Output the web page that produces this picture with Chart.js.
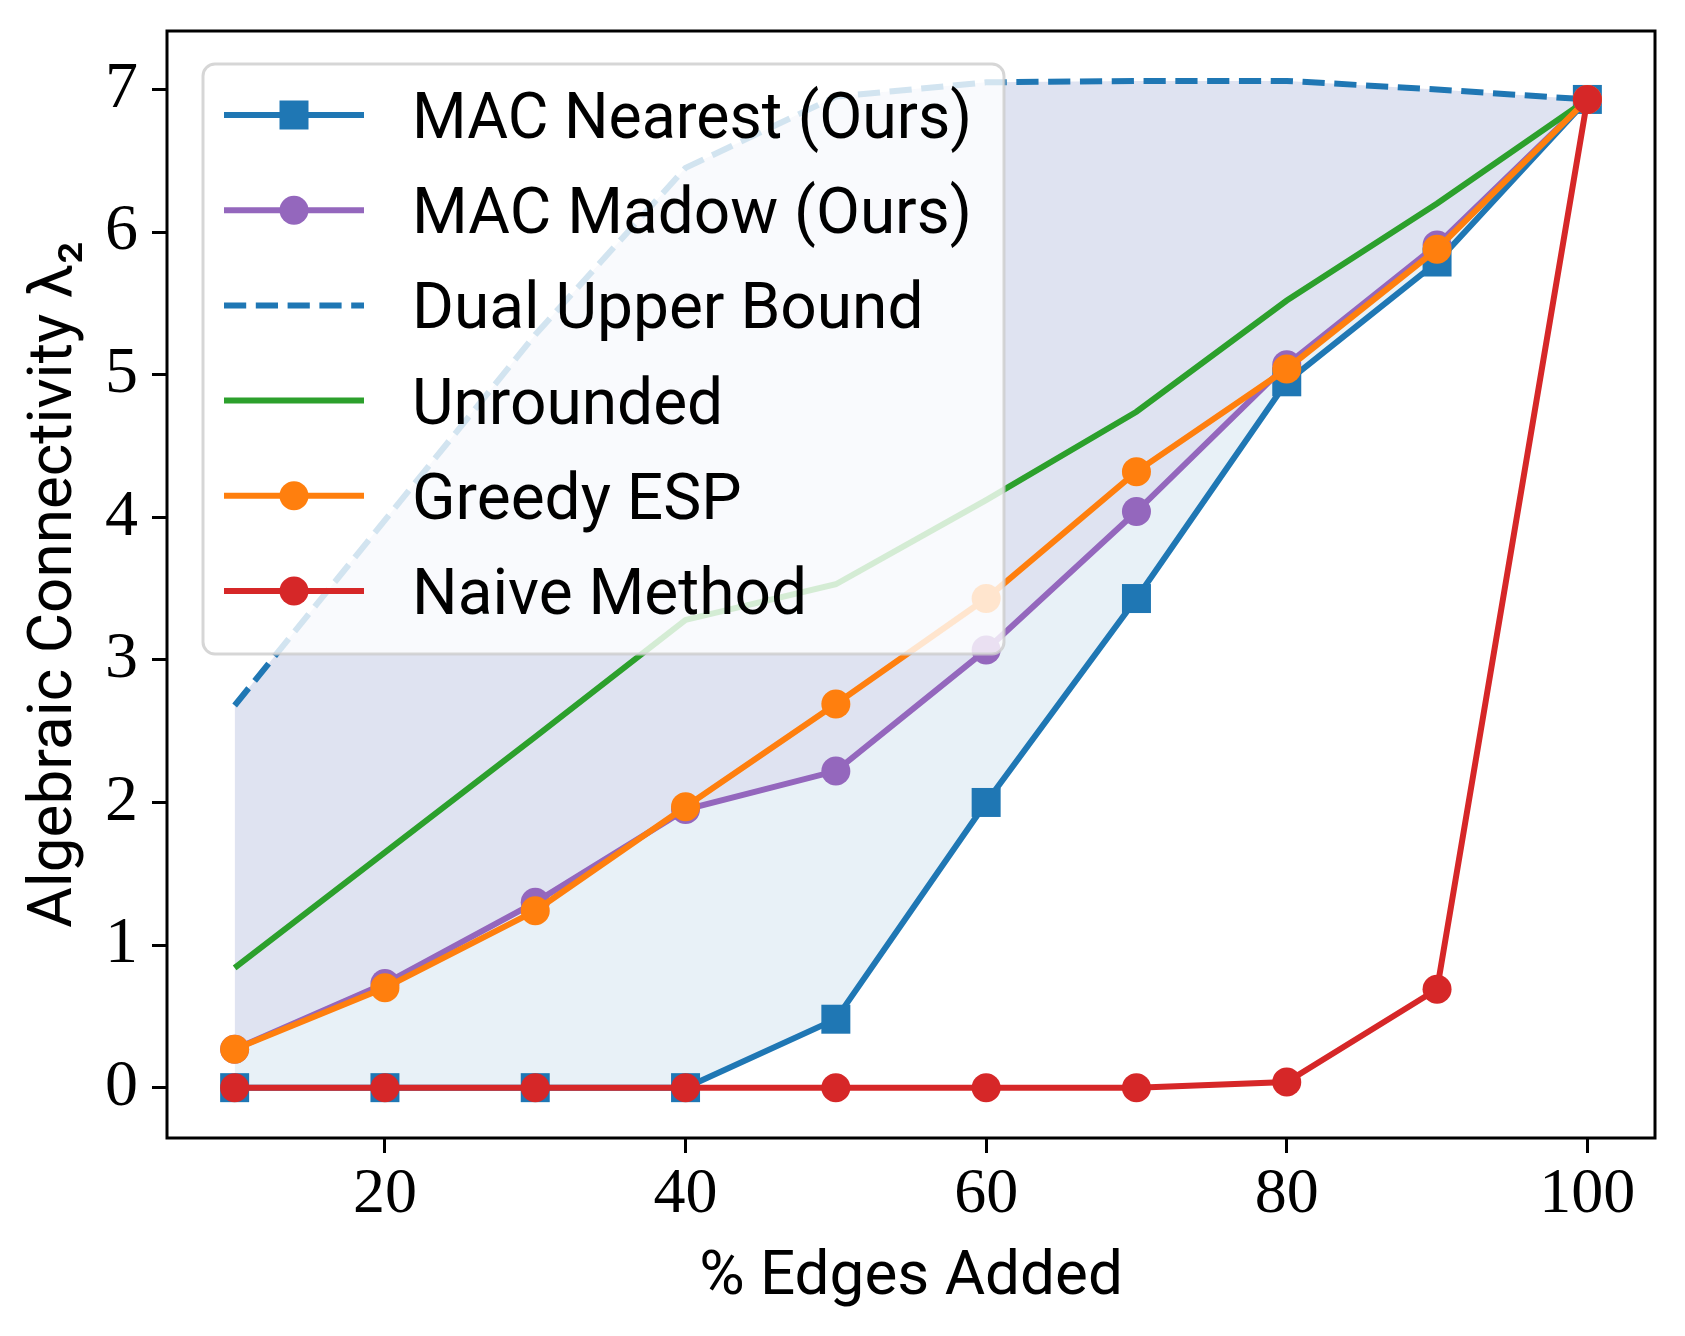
<!DOCTYPE html>
<html>
<head>
<meta charset="utf-8">
<script src="https://cdn.jsdelivr.net/npm/chart.js@4.4.1/dist/chart.umd.min.js"></script>
<style>
  html, body { margin: 0; padding: 0; background: #fff; }
  #wrap { width: 1685px; height: 1336px; position: relative; }
</style>
</head>
<body>
<div id="wrap"><canvas id="c"></canvas></div>
<script>
// ---- data ----
const edgesAdded = [10, 20, 30, 40, 50, 60, 70, 80, 90, 100];
const macNearest = [0, 0, 0, 0, 0.48, 2.0, 3.43, 4.95, 5.79, 6.93];
const macMadow = [0.27, 0.73, 1.30, 1.95, 2.22, 3.07, 4.04, 5.07, 5.91, 6.93];
const dualUpper = [2.68, 3.98, 5.28, 6.45, 6.95, 7.05, 7.06, 7.06, 7.00, 6.93];
const unrounded = [0.84, 1.65, 2.46, 3.28, 3.53, 4.12, 4.74, 5.52, 6.20, 6.93];
const greedyESP = [0.27, 0.70, 1.24, 1.97, 2.69, 3.43, 4.32, 5.04, 5.88, 6.93];
const naiveMethod = [0, 0, 0, 0, 0, 0, 0, 0.04, 0.69, 6.93];
const seriesLabels = ['MAC Nearest (Ours)', 'MAC Madow (Ours)', 'Dual Upper Bound', 'Unrounded', 'Greedy ESP', 'Naive Method'];
const xTickValues = [20, 40, 60, 80, 100];
const yTickValues = [0, 1, 2, 3, 4, 5, 6, 7];
const xAxisTitle = '% Edges Added';
const yAxisTitle = 'Algebraic Connectivity \u03bb\u2082';

const C = { blue: '#1f77b4', purple: '#9467bd', green: '#2ca02c', orange: '#ff7f0e', red: '#d62728' };
const pts = (ys) => edgesAdded.map((x, i) => ({ x: x, y: ys[i] }));

const SANS = 'Roboto, "Liberation Sans", sans-serif';
const SERIF = '"Liberation Serif", "DejaVu Serif", serif';

const legendPlugin = {
  id: 'boxLegend',
  afterDatasetsDraw(chart) {
    const ctx = chart.ctx;
    const a = chart.chartArea;
    ctx.save();
    // axes frame
    ctx.strokeStyle = '#000';
    ctx.lineWidth = 3;
    ctx.strokeRect(a.left, a.top, a.right - a.left, a.bottom - a.top);
    // legend box
    const bx = a.left + 36, by = a.top + 33, bw = 801, bh = 590, r = 12;
    ctx.beginPath();
    ctx.moveTo(bx + r, by);
    ctx.lineTo(bx + bw - r, by);
    ctx.arcTo(bx + bw, by, bx + bw, by + r, r);
    ctx.lineTo(bx + bw, by + bh - r);
    ctx.arcTo(bx + bw, by + bh, bx + bw - r, by + bh, r);
    ctx.lineTo(bx + r, by + bh);
    ctx.arcTo(bx, by + bh, bx, by + bh - r, r);
    ctx.lineTo(bx, by + r);
    ctx.arcTo(bx, by, bx + r, by, r);
    ctx.closePath();
    ctx.fillStyle = 'rgba(255,255,255,0.8)';
    ctx.fill();
    ctx.strokeStyle = 'rgba(204,204,204,0.8)';
    ctx.lineWidth = 3;
    ctx.stroke();
    // entries
    const rowY0 = by + 51, rowStep = 95.2;
    const lx0 = bx + 21, lx1 = bx + 161, mx = bx + 91, tx = bx + 209;
    ctx.font = '64px ' + SANS;
    ctx.textBaseline = 'alphabetic';
    ctx.textAlign = 'left';
    chart.data.datasets.forEach((ds, i) => {
      const y = rowY0 + i * rowStep;
      ctx.strokeStyle = ds.borderColor;
      ctx.lineWidth = ds.borderWidth;
      ctx.setLineDash(ds.borderDash || []);
      ctx.lineCap = 'butt';
      ctx.beginPath();
      ctx.moveTo(lx0, y);
      ctx.lineTo(lx1, y);
      ctx.stroke();
      ctx.setLineDash([]);
      if (ds.pointRadius > 0) {
        ctx.fillStyle = ds.borderColor;
        if (ds.pointStyle === 'rect') {
          const s = ds.pointRadius * Math.SQRT1_2;
          ctx.fillRect(mx - s, y - s, 2 * s, 2 * s);
        } else {
          ctx.beginPath();
          ctx.arc(mx, y, ds.pointRadius, 0, Math.PI * 2);
          ctx.fill();
        }
      }
      ctx.fillStyle = '#000';
      ctx.fillText(ds.label, tx, y + 23, 560);
    });
    ctx.restore();
  }
};

const base = (label, color, data, extra) => Object.assign({
  label: label, data: pts(data), borderColor: color, backgroundColor: color,
  borderWidth: 6, pointRadius: 14.5, pointHoverRadius: 14.5, pointBorderWidth: 0,
  pointBackgroundColor: color, pointStyle: 'circle', tension: 0, fill: false
}, extra || {});

new Chart(document.getElementById('c'), {
  type: 'line',
  data: {
    datasets: [
      base(seriesLabels[0], C.blue, macNearest, { pointStyle: 'rect', pointRadius: 20.5, pointHoverRadius: 20.5, order: 6,
        fill: { target: 2, above: 'rgba(31,119,180,0.1)', below: 'rgba(31,119,180,0.1)' } }),
      base(seriesLabels[1], C.purple, macMadow, { order: 5,
        fill: { target: 2, above: 'rgba(148,103,189,0.1)', below: 'rgba(148,103,189,0.1)' } }),
      base(seriesLabels[2], C.blue, dualUpper, { pointRadius: 0, pointHoverRadius: 0, borderDash: [22.2, 9.6], order: 4 }),
      base(seriesLabels[3], C.green, unrounded, { pointRadius: 0, pointHoverRadius: 0, order: 3 }),
      base(seriesLabels[4], C.orange, greedyESP, { order: 2 }),
      base(seriesLabels[5], C.red, naiveMethod, { order: 1 })
    ]
  },
  options: {
    responsive: true,
    maintainAspectRatio: false,
    devicePixelRatio: 1,
    animation: false,
    layout: { padding: { top: 31, right: 30, left: 0, bottom: 0 } },
    plugins: {
      legend: { display: false },
      tooltip: { enabled: false },
      filler: { drawTime: 'beforeDatasetsDraw' }
    },
    scales: {
      x: {
        type: 'linear', min: 5.5, max: 104.5,
        afterBuildTicks: (s) => { s.ticks = xTickValues.map(v => ({ value: v })); },
        afterFit: (s) => { s.height = 198; s.paddingLeft = 0; s.paddingRight = 0; },
        grid: { display: true, drawOnChartArea: false, drawTicks: true, tickLength: 15, tickWidth: 3, tickColor: '#000' },
        border: { display: false },
        ticks: { color: '#000', font: { family: SERIF, size: 64 }, padding: 4, maxRotation: 0 },
        title: { display: true, text: xAxisTitle, color: '#000', font: { family: SANS, size: 62 }, padding: { top: 0, bottom: 20 } }
      },
      y: {
        type: 'linear', min: -0.353, max: 7.41,
        afterBuildTicks: (s) => { s.ticks = yTickValues.map(v => ({ value: v })); },
        afterFit: (s) => { s.width = 167; s.paddingTop = 0; s.paddingBottom = 0; },
        grid: { display: true, drawOnChartArea: false, drawTicks: true, tickLength: 15, tickWidth: 3, tickColor: '#000' },
        border: { display: false },
        ticks: { color: '#000', font: { family: SERIF, size: 66 }, padding: 14 },
        title: { display: true, text: yAxisTitle, color: '#000', font: { family: SANS, size: 62 }, padding: { top: 18, bottom: 0 } }
      }
    }
  },
  plugins: [legendPlugin]
});
</script>
</body>
</html>
